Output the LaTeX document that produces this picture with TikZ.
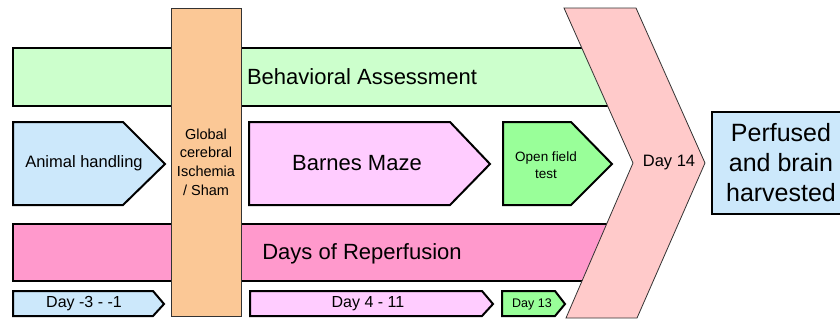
\documentclass[tikz,border=0pt]{standalone}
\usepackage{fontspec}
\setmainfont{Liberation Sans}
\definecolor{cgreenbar}{HTML}{CCFFCC}
\definecolor{cpinkbar}{HTML}{FF99CC}
\definecolor{cblue}{HTML}{CCE8FB}
\definecolor{clav}{HTML}{FFCCFF}
\definecolor{cgreen}{HTML}{99FF99}
\definecolor{corange}{HTML}{FBC896}
\definecolor{cchev}{HTML}{FFCACA}
\tikzset{
  thickbox/.style={draw=black, line width=2pt, line join=miter},
  thinbox/.style={draw=black!80, line width=0.8pt},
  lbl/.style={inner sep=0pt, align=center, text=black},
}
\begin{document}
\begin{tikzpicture}[x=1pt,y=-1pt]
\useasboundingbox (0,0) rectangle (840,324);
\clip (0,0) rectangle (840,324);
% long bars
\draw[thickbox, fill=cgreenbar] (13,48) rectangle (620,106);
\draw[thickbox, fill=cpinkbar] (13,224) rectangle (620,281);
\node[lbl, font=\fontsize{22}{26}\selectfont] (ba) at (362,77) {Behavioral Assessment};
\node[lbl, font=\fontsize{22}{26}\selectfont] (dr) at (362,254) {Days of Reperfusion};
% ischemia column
\draw[thinbox, fill=corange] (171,8) rectangle (241,316);
\node[lbl, font=\fontsize{14.5}{18.7}\selectfont] (isch) at (206,162) {Global\\cerebral\\Ischemia\\/ Sham};
% middle row arrows
\draw[thickbox, fill=cblue] (13,122) -- (123,122) -- (165,164) -- (123,205) -- (13,205) -- cycle;
\node[lbl, font=\fontsize{16.5}{20}\selectfont] (ah) at (84,163) {Animal handling};
\draw[thickbox, fill=clav] (249,122) -- (450,122) -- (490,164) -- (450,205) -- (249,205) -- cycle;
\node[lbl, font=\fontsize{22}{26}\selectfont] (bm) at (357,163) {Barnes Maze};
\draw[thickbox, fill=cgreen] (503,122) -- (571,122) -- (612,164) -- (571,205) -- (503,205) -- cycle;
\node[lbl, font=\fontsize{13.5}{17}\selectfont] (of) at (546,165) {Open field\\test};
% bottom row arrows
\draw[thickbox, fill=cblue] (13,291) -- (153,291) -- (164,304) -- (153,316) -- (13,316) -- cycle;
\node[lbl, font=\fontsize{16}{19}\selectfont] (d1) at (84,304) {Day -3 - -1};
\draw[thickbox, fill=clav] (250,291) -- (482,291) -- (493,304) -- (482,316) -- (250,316) -- cycle;
\node[lbl, font=\fontsize{16}{19}\selectfont] (d2) at (368,304) {Day 4 - 11};
\draw[thickbox, fill=cgreen] (502,291) -- (555,291) -- (565,304) -- (555,316) -- (502,316) -- cycle;
\node[lbl, font=\fontsize{12.5}{15}\selectfont] (d3) at (532,304) {Day 13};
% chevron
\draw[thinbox, fill=cchev, line join=miter] (564,8) -- (636,8) -- (705,163) -- (637,318) -- (566,318) -- (633,163) -- cycle;
\node[lbl, font=\fontsize{16.5}{20}\selectfont] (d14) at (669,163) {Day 14};
% final box
\draw[thickbox, fill=cblue] (712,112) rectangle (850,214);
\node[lbl, font=\fontsize{25}{30}\selectfont] (pf) at (781,163) {Perfused\\and brain\\harvested};
\end{tikzpicture}
\end{document}
